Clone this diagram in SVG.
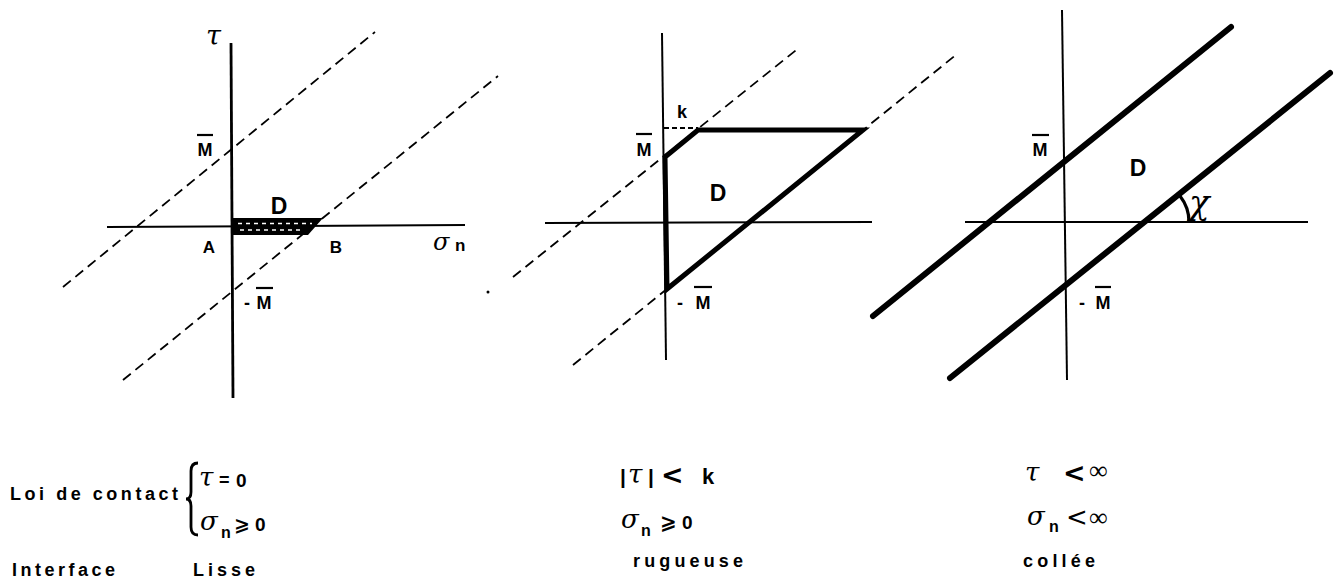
<svg xmlns="http://www.w3.org/2000/svg" width="1341" height="582" viewBox="0 0 1341 582">
<style>
.ax{stroke:#000;stroke-width:2;fill:none}
.ax1{stroke:#000;stroke-width:2.8;fill:none}
.dash{stroke:#000;stroke-width:1.8;stroke-dasharray:10 6;fill:none}
.thick{stroke:#000;stroke-width:5;fill:none;stroke-linejoin:miter}
.thick3{stroke:#000;stroke-width:6;fill:none;stroke-linecap:round}
.ov{stroke:#000;stroke-width:2.2}
.b{font-family:"Liberation Sans",Arial,sans-serif;font-weight:bold;fill:#000}
.m{font-family:"DejaVu Serif","Liberation Serif",serif;font-style:italic;fill:#000}
.s{font-family:"DejaVu Sans",sans-serif;fill:#000}
.inf{font-family:"Liberation Serif","Times New Roman",serif;fill:#000}
</style>
<rect width="1341" height="582" fill="#fff"/>

<g id="panel-lisse">
  <line class="ax1" x1="231" y1="43" x2="233" y2="398"/>
  <line class="ax" x1="107" y1="227" x2="465" y2="225"/>
  <line class="dash" x1="63" y1="287" x2="375" y2="32"/>
  <line class="dash" x1="123" y1="380" x2="498" y2="76"/>
  <polygon points="232,218 323,218 308,235 232,235" fill="#000"/>
  <line x1="238" y1="223.5" x2="312" y2="223.5" stroke="#fff" stroke-width="1.5" stroke-dasharray="4 4"/>
  <line x1="240" y1="230" x2="304" y2="230" stroke="#fff" stroke-width="1.5" stroke-dasharray="4 4"/>
  <text class="m" x="206" y="45" font-size="27">τ</text>
  <text class="b" x="205" y="156" font-size="18" text-anchor="middle">M</text>
  <line class="ov" x1="197" y1="135" x2="213" y2="135"/>
  <text class="b" x="244" y="309" font-size="18">-</text>
  <text class="b" x="264" y="309" font-size="18" text-anchor="middle">M</text>
  <line class="ov" x1="256" y1="288" x2="273" y2="288"/>
  <text class="b" x="279" y="214" font-size="23" text-anchor="middle">D</text>
  <text class="b" x="209" y="253" font-size="17" text-anchor="middle">A</text>
  <text class="b" x="336" y="253" font-size="17" text-anchor="middle">B</text>
  <text class="m" x="433" y="250" font-size="24">σ</text>
  <text class="b" x="455" y="251" font-size="17">n</text>
  <circle cx="488" cy="292" r="1.5" fill="#000"/>
</g>

<g id="panel-rugueuse">
  <line class="ax" x1="662" y1="33" x2="666" y2="360"/>
  <line class="ax" x1="545" y1="223" x2="872" y2="222"/>
  <line class="dash" x1="513" y1="277" x2="800" y2="47"/>
  <line class="dash" x1="573" y1="365" x2="957" y2="54"/>
  <line x1="664" y1="128" x2="698" y2="128" stroke="#000" stroke-width="1.8" stroke-dasharray="5 3"/>
  <polygon class="thick" points="665,157 698,130 863,130 667,289"/>
  <text class="b" x="682" y="118" font-size="18" text-anchor="middle">k</text>
  <text class="b" x="644" y="156" font-size="18" text-anchor="middle">M</text>
  <line class="ov" x1="636" y1="134" x2="652" y2="134"/>
  <text class="b" x="718" y="201" font-size="23" text-anchor="middle">D</text>
  <text class="b" x="677" y="309" font-size="18">-</text>
  <text class="b" x="703" y="309" font-size="18" text-anchor="middle">M</text>
  <line class="ov" x1="694" y1="287" x2="712" y2="287"/>
</g>

<g id="panel-collee">
  <line class="ax" x1="1062" y1="10" x2="1067" y2="380"/>
  <line class="ax" x1="965" y1="222" x2="1308" y2="222"/>
  <line class="thick3" x1="873" y1="316" x2="1231" y2="27"/>
  <line class="thick3" x1="950" y1="378" x2="1330" y2="73"/>
  <path d="M1180,196 A42,42 0 0 1 1189,222" stroke="#000" stroke-width="3.2" fill="none"/>
  <text class="m" x="1189" y="214" font-size="34">χ</text>
  <text class="b" x="1040" y="156" font-size="18" text-anchor="middle">M</text>
  <line class="ov" x1="1032" y1="135" x2="1049" y2="135"/>
  <text class="b" x="1138" y="176" font-size="23" text-anchor="middle">D</text>
  <text class="b" x="1079" y="309" font-size="18">-</text>
  <text class="b" x="1103" y="309" font-size="18" text-anchor="middle">M</text>
  <line class="ov" x1="1095" y1="287" x2="1111" y2="287"/>
</g>

<g id="legend-lisse">
  <text class="b" x="10" y="500" font-size="18" textLength="168" lengthAdjust="spacing">Loi de contact</text>
  <path d="M198,463 Q191,463 191,471 L191,492 Q191,499 186,499 Q191,499 191,506 L191,527 Q191,535 198,535" stroke="#000" stroke-width="2.8" fill="none"/>
  <text class="m" x="199" y="486" font-size="26">τ</text>
  <text class="b" x="219" y="486" font-size="18">=</text>
  <text class="b" x="236" y="487" font-size="19">0</text>
  <text class="m" x="200" y="530" font-size="26">σ</text>
  <text class="b" x="221" y="538" font-size="16">n</text>
  <text class="s" x="234" y="531" font-size="19" font-weight="bold">⩾</text>
  <text class="b" x="255" y="531" font-size="19">0</text>
  <text class="b" x="12" y="576" font-size="18" textLength="103" lengthAdjust="spacing">Interface</text>
  <text class="b" x="193" y="576" font-size="18" textLength="62" lengthAdjust="spacing">Lisse</text>
</g>

<g id="legend-rugueuse">
  <text class="b" x="620" y="484" font-size="21">|</text>
  <text class="m" x="628" y="483" font-size="26">τ</text>
  <text class="b" x="648" y="484" font-size="21">|</text>
  <text class="s" x="661" y="484" font-size="27" font-weight="bold">&lt;</text>
  <text class="b" x="702" y="484" font-size="22">k</text>
  <text class="m" x="621" y="528" font-size="26">σ</text>
  <text class="b" x="641" y="536" font-size="16">n</text>
  <text class="s" x="660" y="529" font-size="20" font-weight="bold">⩾</text>
  <text class="b" x="682" y="529" font-size="19">0</text>
  <text class="b" x="633" y="567" font-size="18" textLength="110" lengthAdjust="spacing">rugueuse</text>
</g>

<g id="legend-collee">
  <text class="m" x="1025" y="481" font-size="26">τ</text>
  <text class="s" x="1063" y="482" font-size="27" font-weight="bold">&lt;</text>
  <text class="inf" x="1089" y="479" font-size="26">∞</text>
  <text class="m" x="1027" y="525" font-size="26">σ</text>
  <text class="b" x="1049" y="532" font-size="16">n</text>
  <text class="s" x="1066" y="526" font-size="26">&lt;</text>
  <text class="inf" x="1089" y="526" font-size="26">∞</text>
  <text class="b" x="1023" y="567" font-size="18" textLength="72" lengthAdjust="spacing">collée</text>
</g>
</svg>
